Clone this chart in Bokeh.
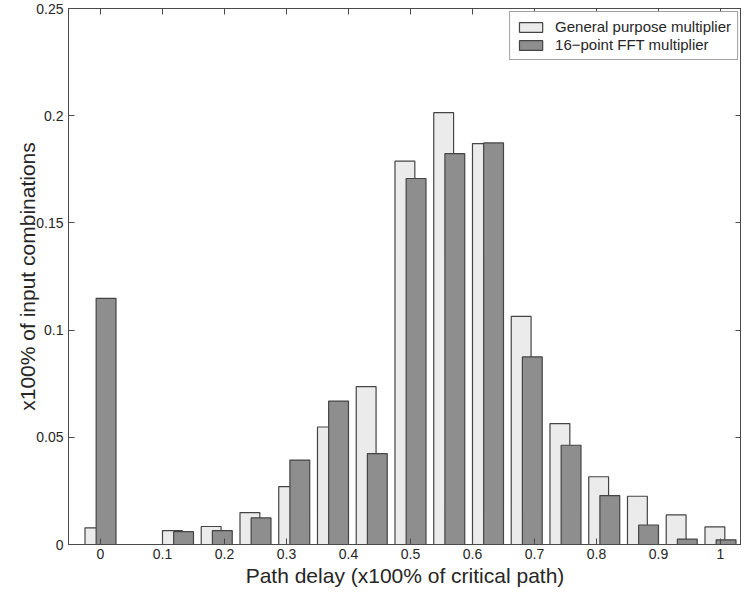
from bokeh.plotting import figure
from bokeh.models import (FixedTicker, LinearAxis, Legend, LegendItem, Range1d,
                          ColumnDataSource, CustomJSTickFormatter)
from bokeh.transform import dodge
from bokeh.embed import file_html
from bokeh.resources import INLINE

# ---- data ----
bin_centers = [0, 0.0625, 0.125, 0.1875, 0.25, 0.3125, 0.375, 0.4375, 0.5,
               0.5625, 0.625, 0.6875, 0.75, 0.8125, 0.875, 0.9375, 1.0]
general_purpose = [0.0078, 0.0, 0.0065, 0.0084, 0.0149, 0.0270, 0.0548, 0.0736, 0.1788,
                   0.2014, 0.1870, 0.1064, 0.0564, 0.0316, 0.0225, 0.0138, 0.0082]
fft_16_point = [0.1148, 0.0, 0.0060, 0.0065, 0.0124, 0.0394, 0.0669, 0.0424, 0.1707,
                0.1823, 0.1873, 0.0875, 0.0463, 0.0228, 0.0091, 0.0025, 0.0022]
series_names = ["General purpose multiplier", "16\u2212point FFT multiplier"]

x_ticks = [0, 0.1, 0.2, 0.3, 0.4, 0.5, 0.6, 0.7, 0.8, 0.9, 1]
x_tick_labels = ["0", "0.1", "0.2", "0.3", "0.4", "0.5", "0.6", "0.7", "0.8", "0.9", "1"]
y_ticks = [0, 0.05, 0.1, 0.15, 0.2, 0.25]
y_tick_labels = ["0", "0.05", "0.1", "0.15", "0.2", "0.25"]

x_title = "Path delay (x100% of critical path)"
y_title = "x100% of input combinations"

# ---- styles ----
FONT = "Liberation Sans"
TEXT = "#262626"
AXIS = "#4a4a4a"
LIGHT = "#ebebeb"
DARK = "#8e8e8e"
EDGE = "#444444"

source = ColumnDataSource(dict(x=bin_centers, gp=general_purpose, fft=fft_16_point))

p = figure(frame_width=673, frame_height=536,
           x_range=Range1d(-0.0516, 1.0339), y_range=Range1d(0, 0.25),
           output_backend="svg", toolbar_location=None,
           min_border_left=68, min_border_right=0, min_border_top=8, min_border_bottom=43,
           background_fill_color="white", border_fill_color="white")

p.grid.visible = False
p.outline_line_color = AXIS
p.outline_line_width = 1

r1 = p.vbar(x=dodge("x", -0.009, range=p.x_range), top="gp", width=0.032, bottom=0,
            source=source, fill_color=LIGHT, line_color=EDGE, line_width=1.2)
r2 = p.vbar(x=dodge("x", 0.009, range=p.x_range), top="fft", width=0.032, bottom=0,
            source=source, fill_color=DARK, line_color=EDGE, line_width=1.2)

def style_axis(ax, ticks, labels, show_labels=True):
    ax.ticker = FixedTicker(ticks=ticks)
    ax.minor_tick_line_color = None
    ax.major_tick_in = 6
    ax.major_tick_out = 0
    ax.axis_line_color = AXIS
    ax.major_tick_line_color = AXIS
    if show_labels:
        ax.major_label_overrides = {t: l for t, l in zip(ticks, labels)}
        ax.major_label_text_font = FONT
        ax.major_label_text_font_size = "14px"
        ax.major_label_text_color = TEXT
    else:
        ax.formatter = CustomJSTickFormatter(code="return ''")
        ax.major_label_standoff = 0

xb = p.xaxis[0]
yl = p.yaxis[0]
style_axis(xb, x_ticks, x_tick_labels)
style_axis(yl, y_ticks, y_tick_labels)
xb.major_label_standoff = 4
yl.major_label_standoff = 5

xb.axis_label = x_title
xb.axis_label_text_font = FONT
xb.axis_label_text_font_size = "21px"
xb.axis_label_text_font_style = "normal"
xb.axis_label_text_color = TEXT
xb.axis_label_standoff = 2

yl.axis_label = y_title
yl.axis_label_text_font = FONT
yl.axis_label_text_font_size = "21px"
yl.axis_label_text_font_style = "normal"
yl.axis_label_text_color = TEXT
yl.axis_label_standoff = -6

xt = LinearAxis()
style_axis(xt, x_ticks, x_tick_labels, show_labels=False)
p.add_layout(xt, "above")
yr = LinearAxis()
style_axis(yr, y_ticks, y_tick_labels, show_labels=False)
p.add_layout(yr, "right")

legend = Legend(items=[LegendItem(label=series_names[0], renderers=[r1]),
                       LegendItem(label=series_names[1], renderers=[r2])],
                location="top_right", margin=3, padding=6, spacing=1,
                glyph_width=29, glyph_height=12, label_height=14, label_standoff=10,
                label_text_font=FONT, label_text_font_size="15px", label_text_color=TEXT,
                border_line_color=EDGE, border_line_width=1,
                background_fill_color="white", background_fill_alpha=1)
p.add_layout(legend)

open("out.html", "w").write(file_html(p, INLINE))
